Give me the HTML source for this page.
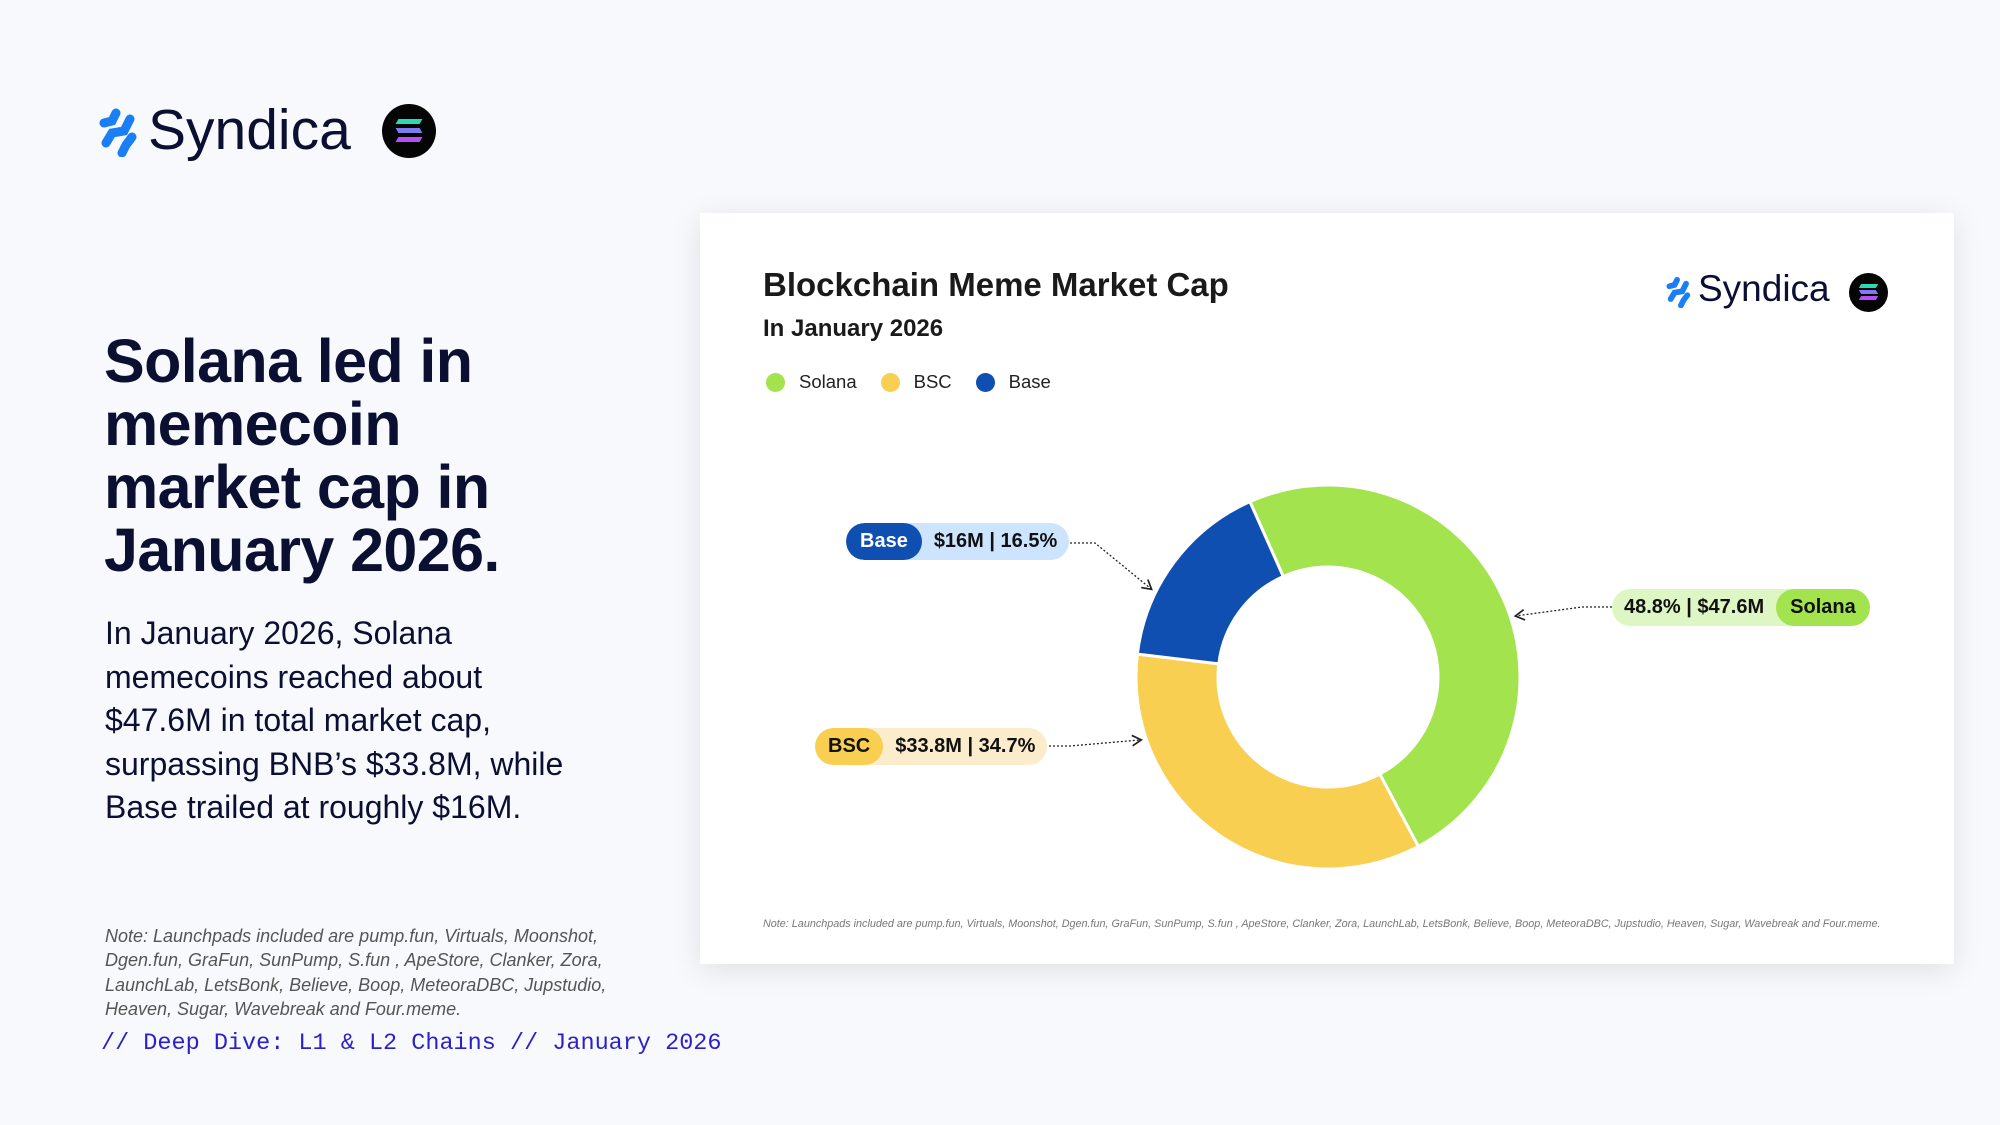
<!DOCTYPE html>
<html><head><meta charset="utf-8"><style>
body{margin:0;width:2000px;height:1125px;background:#f8f9fc;font-family:"Liberation Sans",sans-serif;position:relative;overflow:hidden;color:#0b1033}
.abs{position:absolute}
.pill{position:absolute;height:37px;border-radius:19px;display:flex;align-items:center;font-weight:bold;font-size:20px;color:#111;white-space:nowrap;overflow:hidden}
.pill span{display:flex;align-items:center;height:100%;padding:0 12px}
</style></head><body>
<div class="abs" style="left:98px;top:103px;width:320px;height:60px">
<svg class="abs" style="left:0;top:4px" width="42" height="50" viewBox="0 0 42 50"><g stroke="#1a7ef5" stroke-width="9" stroke-linecap="round" fill="none"><path d="M18 6 L14 14 L6 16"/><path d="M32 12 L26 24 L14 26 L8 36"/><path d="M34 30 L28 38 L24 46"/></g></svg>
<div class="abs" style="left:50px;top:-6px;font-size:57px;color:#0b1033">Syndica</div>
</div>
<div class="abs" style="left:382px;top:104px;width:54px;height:54px;border-radius:50%;background:#050505">
<div class="abs" style="left:15px;top:15px;width:24px;height:5px;background:#2fd8b0;transform:skewX(-30deg)"></div>
<div class="abs" style="left:15px;top:24px;width:24px;height:5px;background:#7b7cf0;transform:skewX(30deg)"></div>
<div class="abs" style="left:15px;top:33px;width:24px;height:5px;background:#b84ef5;transform:skewX(-30deg)"></div>
</div>
<div class="abs" style="left:104px;top:330px;font-size:61px;font-weight:bold;line-height:63px;letter-spacing:-0.6px;color:#0b1033">Solana led in<br>memecoin<br>market cap in<br>January 2026.</div>
<div class="abs" style="left:105px;top:612px;font-size:32px;line-height:43.5px;letter-spacing:0px;color:#0b1033">In January 2026, Solana<br>memecoins reached about<br>$47.6M in total market cap,<br>surpassing BNB’s $33.8M, while<br>Base trailed at roughly $16M.</div>
<div class="abs" style="left:105px;top:924px;font-size:18px;line-height:24.3px;font-style:italic;color:#555;letter-spacing:0px">Note: Launchpads included are pump.fun, Virtuals, Moonshot,<br>Dgen.fun, GraFun, SunPump, S.fun , ApeStore, Clanker, Zora,<br>LaunchLab, LetsBonk, Believe, Boop, MeteoraDBC, Jupstudio,<br>Heaven, Sugar, Wavebreak and Four.meme.</div>
<div class="abs" style="left:101px;top:1030px;font-family:'Liberation Mono',monospace;font-size:23.5px;color:#2a1fc8">// Deep Dive: L1 &amp; L2 Chains // January 2026</div>

<div class="abs" style="left:700px;top:213px;width:1254px;height:751px;background:#fff;box-shadow:0 6px 30px rgba(0,0,0,0.10)">
<div class="abs" style="left:63px;top:53px;font-size:33px;font-weight:bold;color:#1a1a1a;letter-spacing:0px">Blockchain Meme Market Cap</div>
<div class="abs" style="left:63px;top:102px;font-size:24px;font-weight:bold;color:#1a1a1a">In January 2026</div>
<div class="abs" style="left:66px;top:158px;font-size:18.5px;color:#222;display:flex;align-items:center">
<span style="display:flex;align-items:center"><i style="width:19px;height:19px;border-radius:50%;background:#a3e34e;display:inline-block;margin-right:14px"></i>Solana</span>
<span style="display:flex;align-items:center;margin-left:24px"><i style="width:19px;height:19px;border-radius:50%;background:#f9cf52;display:inline-block;margin-right:14px"></i>BSC</span>
<span style="display:flex;align-items:center;margin-left:24px"><i style="width:19px;height:19px;border-radius:50%;background:#104fb2;display:inline-block;margin-right:14px"></i>Base</span>
</div>
<div class="abs" style="left:965px;top:57px;width:240px;height:45px">
<svg class="abs" style="left:0;top:6px" width="28" height="32" viewBox="0 0 42 50"><g stroke="#1a7ef5" stroke-width="9" stroke-linecap="round" fill="none"><path d="M18 6 L14 14 L6 16"/><path d="M32 12 L26 24 L14 26 L8 36"/><path d="M34 30 L28 38 L24 46"/></g></svg>
<div class="abs" style="left:33px;top:-2px;font-size:37px;color:#0b1033">Syndica</div>
<div class="abs" style="left:184px;top:3px;width:39px;height:39px;border-radius:50%;background:#050505">
<div class="abs" style="left:11px;top:11px;width:17px;height:4px;background:#2fd8b0;transform:skewX(-30deg)"></div>
<div class="abs" style="left:11px;top:17px;width:17px;height:4px;background:#7b7cf0;transform:skewX(30deg)"></div>
<div class="abs" style="left:11px;top:23px;width:17px;height:4px;background:#b84ef5;transform:skewX(-30deg)"></div>
</div></div>
<div class="abs" style="left:63px;top:705px;font-size:10.8px;font-style:italic;color:#777;white-space:nowrap">Note: Launchpads included are pump.fun, Virtuals, Moonshot, Dgen.fun, GraFun, SunPump, S.fun , ApeStore, Clanker, Zora, LaunchLab, LetsBonk, Believe, Boop, MeteoraDBC, Jupstudio, Heaven, Sugar, Wavebreak and Four.meme.</div>
</div>

<svg id="chart" class="abs" style="left:0;top:0" width="2000" height="1125">
<defs><marker id="ah" markerWidth="10" markerHeight="10" refX="8" refY="5" orient="auto"><path d="M1 1 L8 5 L1 9" fill="none" stroke="#222" stroke-width="1.3"/></marker></defs>
</svg>

<div class="pill" style="left:846px;top:523px;background:#cde4ff"><span style="background:#104fb2;color:#fff;border-radius:19px;padding:0 14px">Base</span><span>$16M | 16.5%</span></div>
<div class="pill" style="left:815px;top:728px;background:#fbeccb"><span style="background:#f9cf52;border-radius:19px;padding:0 13px">BSC</span><span>$33.8M | 34.7%</span></div>
<div class="pill" style="left:1612px;top:589px;background:#ddf6c4"><span>48.8% | $47.6M</span><span style="background:#a3e34e;border-radius:19px;padding:0 14px">Solana</span></div>

<script>
const categories=["Solana","BSC","Base"];
const values=[47.6,33.8,16.0];
const colors=["#a3e34e","#f9cf52","#104fb2"];
const svg=document.getElementById('chart');
const NS="http://www.w3.org/2000/svg";
const cx=1328,cy=677,R=192,r=110,start=-24;
const total=values.reduce((a,b)=>a+b,0);
function pt(a,rad){const t=a*Math.PI/180;return[cx+rad*Math.sin(t),cy-rad*Math.cos(t)];}
let a=start;const mids=[];
values.forEach((v,i)=>{
 const sweep=v/total*360,b=a+sweep,lg=sweep>180?1:0;
 const p1=pt(a,R),p2=pt(b,R),p3=pt(b,r),p4=pt(a,r);
 const p=document.createElementNS(NS,'path');
 p.setAttribute('d',`M${p1} A${R} ${R} 0 ${lg} 1 ${p2} L${p3} A${r} ${r} 0 ${lg} 0 ${p4}Z`);
 p.setAttribute('fill',colors[i]);p.setAttribute('stroke','#fff');p.setAttribute('stroke-width','3');
 
 
 svg.appendChild(p);mids.push(a+sweep/2);a=b;
});
// leader lines: start at label, end near the slice edge
const starts=[[1612,607],[1045,746],[1070,543]];
const offs=[8,37,-10];
mids.forEach((m,i)=>{
 const e=pt(m+offs[i],R+5);
 const s=starts[i];
 const mx=i===0?s[0]-30:s[0]+25;
 const l=document.createElementNS(NS,'path');
 l.setAttribute('d',`M${s[0]} ${s[1]} L${mx} ${s[1]} L${e[0]} ${e[1]}`);
 l.setAttribute('fill','none');l.setAttribute('stroke','#222');l.setAttribute('stroke-width','1.3');l.setAttribute('stroke-dasharray','2 2');
 l.setAttribute('marker-end','url(#ah)');
 
 
 svg.appendChild(l);
});
</script>
</body></html>
